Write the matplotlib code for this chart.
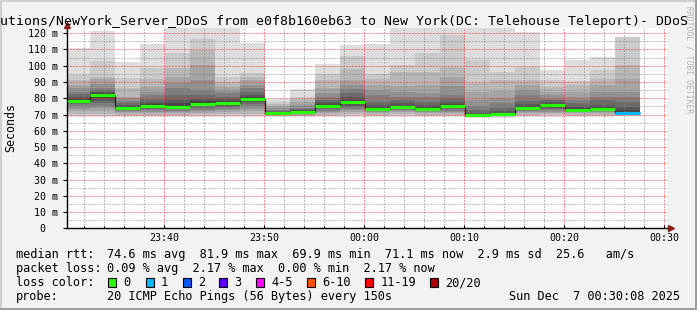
#!/usr/bin/env python3
# smokeping style latency graph (last hour), redrawn with matplotlib
import numpy as np
import matplotlib
matplotlib.use("Agg")
import matplotlib.pyplot as plt
from matplotlib.patches import Rectangle
from matplotlib.lines import Line2D

# ==== values ====
first_slot = 0.07  # minutes after 23:30 where the first 150 s probe slot starts
slot_len = 2.5     # 150 s per probe round

# sorted rtt of the 20 pings of every round (ms), last round lost one ping
pings = [
  [68.5, 69.5, 70.5, 72.0, 73.5, 75.0, 76.5, 77.5, 78.0, 78.2, 78.6, 79.5, 81.0, 82.5, 84.0, 86.0, 88.0, 91.0, 94.2, 110.9],
  [68.5, 69.5, 70.5, 72.0, 74.0, 75.5, 77.0, 78.5, 80.0, 81.5, 82.3, 83.0, 84.0, 85.0, 86.0, 89.0, 91.8, 93.2, 103.0, 121.6],
  [68.5, 69.3, 70.0, 70.8, 71.6, 72.3, 73.0, 73.6, 74.0, 74.2, 74.4, 75.0, 76.0, 77.2, 78.2, 80.0, 81.0, 86.0, 92.2, 102.0],
  [68.5, 69.3, 70.0, 70.8, 71.5, 72.5, 73.5, 74.3, 75.0, 75.3, 75.6, 76.5, 78.0, 79.8, 82.0, 84.0, 87.0, 92.0, 98.4, 113.4],
  [68.5, 69.3, 70.0, 70.8, 71.6, 72.4, 73.2, 73.8, 74.4, 74.7, 75.0, 77.0, 79.0, 82.0, 86.0, 89.5, 93.2, 98.4, 107.7, 128.0],
  [68.5, 69.3, 70.1, 71.0, 72.0, 73.0, 74.0, 75.0, 75.8, 76.3, 76.6, 78.5, 79.8, 82.0, 85.0, 91.2, 100.4, 109.7, 116.5, 126.0],
  [68.5, 69.5, 70.5, 71.5, 72.5, 73.5, 74.5, 75.5, 76.5, 77.1, 77.5, 78.5, 79.5, 81.0, 83.0, 84.5, 87.0, 90.0, 93.0, 125.0],
  [68.5, 69.5, 70.5, 72.0, 73.5, 75.0, 76.5, 77.5, 78.5, 79.3, 79.8, 80.5, 82.0, 84.0, 86.0, 88.0, 91.0, 92.8, 95.3, 114.2],
  [68.3, 68.8, 69.2, 69.6, 69.9, 70.1, 70.3, 70.5, 70.7, 70.8, 71.0, 71.3, 71.8, 72.4, 73.0, 74.0, 75.0, 76.5, 78.0, 79.8],
  [68.3, 68.8, 69.3, 69.8, 70.2, 70.6, 70.9, 71.1, 71.3, 71.4, 71.6, 72.0, 72.6, 73.3, 74.2, 75.7, 77.5, 79.5, 81.0, 85.6],
  [68.5, 69.3, 70.0, 70.8, 71.6, 72.4, 73.2, 74.0, 74.8, 75.2, 75.5, 76.3, 77.5, 79.0, 81.0, 83.0, 86.0, 91.2, 95.0, 100.8],
  [68.5, 69.5, 70.5, 71.5, 72.5, 73.5, 74.5, 75.5, 76.8, 77.7, 78.1, 79.0, 80.5, 83.0, 85.5, 88.0, 91.2, 98.0, 105.7, 112.8],
  [68.5, 69.3, 70.0, 70.8, 71.5, 72.2, 72.8, 73.2, 73.4, 73.5, 73.7, 74.5, 76.0, 78.0, 82.0, 85.0, 88.0, 92.0, 95.2, 113.6],
  [68.5, 69.5, 70.5, 71.3, 72.0, 72.7, 73.3, 73.9, 74.3, 74.5, 74.7, 75.5, 77.0, 79.0, 81.0, 84.0, 87.5, 96.3, 100.4, 125.0],
  [68.5, 69.3, 70.0, 70.8, 71.5, 72.2, 72.7, 73.0, 73.2, 73.3, 73.5, 74.5, 76.0, 78.0, 80.5, 83.0, 88.0, 96.0, 107.7, 126.0],
  [68.5, 69.3, 70.0, 70.8, 71.6, 72.4, 73.2, 74.0, 74.7, 75.1, 75.4, 76.3, 77.5, 79.9, 82.0, 87.5, 93.0, 99.4, 119.0, 126.0],
  [68.0, 68.6, 69.0, 69.3, 69.5, 69.6, 69.7, 69.8, 69.8, 69.8, 69.9, 70.3, 71.0, 72.7, 75.0, 78.8, 84.0, 89.5, 103.5, 125.0],
  [68.0, 68.6, 69.0, 69.4, 69.7, 69.9, 70.0, 70.1, 70.2, 70.2, 70.3, 70.8, 72.0, 74.0, 77.0, 80.0, 84.6, 91.2, 96.3, 125.0],
  [68.5, 69.3, 70.0, 70.8, 71.6, 72.3, 72.9, 73.4, 73.7, 73.9, 74.1, 75.0, 76.5, 78.5, 82.0, 85.0, 88.0, 91.2, 99.4, 120.8],
  [68.5, 69.5, 70.3, 71.0, 71.8, 72.6, 73.4, 74.2, 75.0, 75.5, 75.9, 76.7, 77.7, 79.0, 79.8, 82.0, 84.0, 87.0, 91.2, 97.5],
  [68.5, 69.3, 70.0, 70.7, 71.3, 71.8, 72.2, 72.5, 72.7, 72.8, 73.0, 73.7, 75.0, 77.0, 79.0, 81.0, 84.0, 88.0, 90.6, 103.5],
  [68.5, 69.3, 70.0, 70.7, 71.3, 71.9, 72.5, 72.9, 73.2, 73.4, 73.7, 74.5, 76.0, 78.8, 81.0, 84.0, 88.0, 91.8, 97.3, 105.2],
  [68.5, 69.2, 69.8, 70.3, 70.6, 70.8, 70.9, 71.0, 71.1, 71.3, 71.8, 73.0, 74.7, 77.9, 81.0, 84.0, 92.0, 100.4, 117.6],
]
median_rtt = [78.4, 81.9, 73.9, 75.1, 74.7, 76.4, 77.0, 79.6, 70.8, 71.4, 75.3, 77.8,
              73.5, 74.5, 73.3, 75.1, 69.9, 70.2, 73.9, 75.7, 72.8, 73.5, 71.1]
lost = [0]*22 + [1]

loss_names = ["0", "1", "2", "3", "4-5", "6-10", "11-19", "20/20"]
loss_limits = [0, 1, 2, 3, 5, 10, 19, 20]
loss_colors = ["#26ff00", "#00b8ff", "#0059ff", "#5e00ff", "#ff00ff", "#ff5500", "#ff0000", "#a10000"]

time_ticks = [10, 20, 30, 40, 50, 60]
time_labels = ["23:40", "23:50", "00:00", "00:10", "00:20", "00:30"]
ms_ticks = [0, 10, 20, 30, 40, 50, 60, 70, 80, 90, 100, 110, 120]
ms_labels = ["  0", " 10 m", " 20 m", " 30 m", " 40 m", " 50 m", " 60 m",
             " 70 m", " 80 m", " 90 m", "100 m", "110 m", "120 m"]

# ==== drawing ====
W, H = 697, 310
MONO = "DejaVu Sans Mono"

def fx(x):  # pixel -> figure coords
  return x / W

def fy(y):
  return 1 - y / H

fig = plt.figure(figsize=(W/100, H/100), dpi=100, facecolor="#f2f2f2")
ax = fig.add_axes([fx(66.7), fy(228.3), 601.6/W, 200.6/H])
ax.set_facecolor("white")
ax.set_xlim(0.24, 60.4)
ax.set_ylim(0, 123.4)

# smoke: pair lowest/highest ping, lighter outside, darker towards the median
n_pings = 20
half = n_pings // 2
smoke = np.full((len(pings), n_pings), np.nan)
for k, p in enumerate(pings):
  smoke[k, :len(p)] = p
starts = first_slot + slot_len*np.arange(len(pings))
for i in range(1, half+1):
  lo = smoke[:, i-1]
  hi = smoke[:, n_pings-i]
  ok = ~np.isnan(lo) & ~np.isnan(hi)
  g = (int(190/half*(half-i)) + 50) / 255
  ax.bar(starts[ok], hi[ok]-lo[ok], bottom=lo[ok], width=slot_len, align="edge",
         color=(g, g, g), linewidth=0, antialiased=False, zorder=1)

# median line, coloured by loss
edges = np.append(starts, starts[-1] + slot_len)
ax.stairs(median_rtt, edges, baseline=None, color="#202020", linewidth=0.9, zorder=3)
seg_colors = [loss_colors[next(j for j, lim in enumerate(loss_limits) if n <= lim)] for n in lost]
ax.hlines(median_rtt, starts, starts + slot_len, colors=seg_colors, linewidth=2.2, zorder=4)

# grid on top of the smoke
ax.set_axisbelow(False)
ax.set_xticks(time_ticks, time_labels)
ax.set_xticks([m for m in range(0, 61, 2) if m % 10], minor=True)
ax.set_yticks(ms_ticks, ms_labels)
ax.set_yticks([v for v in range(5, 125, 10)], minor=True)
ax.grid(True, which="major", color=(1, 0.15, 0.15, 0.35), linestyle=(0, (1, 2)), linewidth=0.72)
ax.grid(True, which="minor", color=(0.5, 0.5, 0.5, 0.38), linestyle=(0, (1, 2)), linewidth=0.72)

for s in ["top", "right"]:
  ax.spines[s].set_visible(False)
for s in ["left", "bottom"]:
  ax.spines[s].set_color("black")
  ax.spines[s].set_linewidth(1.0)
  ax.spines[s].set_zorder(5)

ax.tick_params(axis="y", which="major", direction="out", length=2.9, width=0.8, pad=24.7,
               labelsize=7.2, labelfontfamily=MONO)
ax.tick_params(axis="y", which="minor", length=0)
ax.tick_params(axis="x", which="major", direction="in", length=2.2, width=0.8, pad=3.2,
               labelsize=7.2, labelfontfamily=MONO)
ax.tick_params(axis="x", which="minor", direction="in", length=1.5, width=0.8)
for lbl in ax.get_yticklabels():
  lbl.set_horizontalalignment("left")

# axis arrows
ax.plot([0], [1.012], marker="^", ms=4.5, color="#8b1c1c", transform=ax.transAxes, clip_on=False, zorder=6)
ax.plot([1.005], [0], marker=">", ms=4.5, color="#8b1c1c", transform=ax.transAxes, clip_on=False, zorder=6)

# texts
title = "utions/NewYork_Server_DDoS from e0f8b160eb63 to New York(DC: Telehouse Teleport)- DDoS"
fig.text(fx(344), fy(25), title, ha="center", va="baseline", fontsize=9.55, family=MONO)
fig.text(fx(10.8), fy(127.5), "Seconds", rotation=90, ha="center", va="center", fontsize=8.4, family=MONO)
fig.text(fx(689), fy(60), "RRDTOOL / TOBI OETIKER", rotation=270, ha="center", va="center",
         fontsize=5.8, family=MONO, color="#b4b4b4")

leg = dict(va="baseline", fontsize=8.55, family=MONO)
fig.text(fx(16), fy(258.3), "median rtt:", **leg)
fig.text(fx(107.3), fy(258.3), "74.6 ms avg  81.9 ms max  69.9 ms min  71.1 ms now  2.9 ms sd  25.6   am/s", **leg)
fig.text(fx(16), fy(272.3), "packet loss:", **leg)
fig.text(fx(107.3), fy(272.3), "0.09 % avg  2.17 % max  0.00 % min  2.17 % now", **leg)
fig.text(fx(16), fy(286.3), "loss color:", **leg)
box_x = [108.3, 145.7, 182.7, 219.3, 256.3, 307.3, 365.3, 430.3]
for bx, name, col in zip(box_x, loss_names, loss_colors):
  fig.add_artist(Rectangle((fx(bx), fy(286.6)), 8/W, 8.3/H, transform=fig.transFigure,
                           facecolor=col, edgecolor="black", linewidth=0.8))
  fig.text(fx(bx + 15), fy(286.3), name, **leg)
fig.text(fx(16), fy(300), "probe:", **leg)
fig.text(fx(107.3), fy(300), "20 ICMP Echo Pings (56 Bytes) every 150s", **leg)
fig.text(fx(680.3), fy(300), "Sun Dec  7 00:30:08 2025", ha="right", **leg)

# 3d-ish frame round the picture
fig.add_artist(Line2D([0, 1], [fy(1), fy(1)], color="#cfcfcf", linewidth=1.44, transform=fig.transFigure))
fig.add_artist(Line2D([fx(1), fx(1)], [0, 1], color="#cfcfcf", linewidth=1.44, transform=fig.transFigure))
fig.add_artist(Line2D([0, 1], [fy(H-1), fy(H-1)], color="#9e9e9e", linewidth=1.44, transform=fig.transFigure))
fig.add_artist(Line2D([fx(W-1), fx(W-1)], [0, 1], color="#9e9e9e", linewidth=1.44, transform=fig.transFigure))

fig.savefig("out.png", dpi=100, facecolor=fig.get_facecolor())
